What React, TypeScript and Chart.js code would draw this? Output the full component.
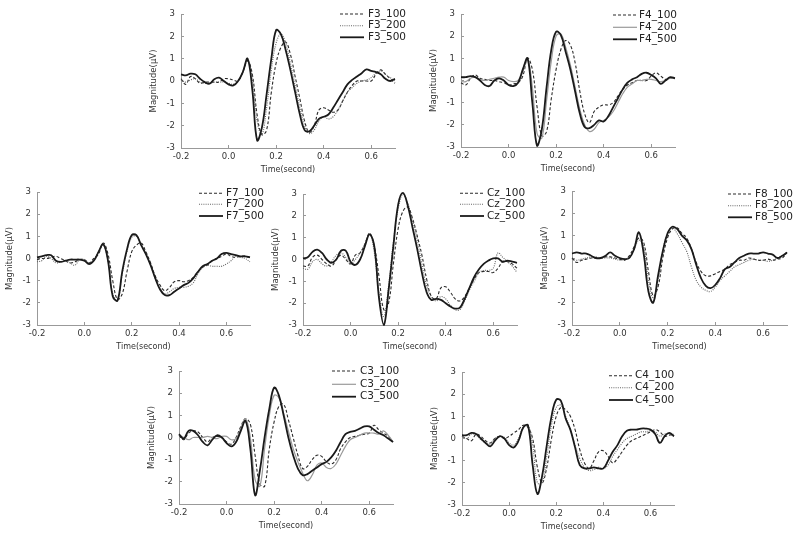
import React, { useEffect, useRef } from "react";
import { Chart, registerables } from "chart.js";
Chart.register(...registerables);

const time = [-0.2,-0.18,-0.16,-0.14,-0.12,-0.1,-0.08,-0.06,-0.04,-0.02,0,0.02,0.04,0.06,0.08,0.1,0.12,0.14,0.16,0.18,0.2,0.22,0.24,0.26,0.28,0.3,0.32,0.34,0.36,0.38,0.4,0.42,0.44,0.46,0.48,0.5,0.52,0.54,0.56,0.58,0.6,0.62,0.64,0.66,0.68,0.7];
const xTicks = [-0.2, 0, 0.2, 0.4, 0.6];
const yTicks = [-3, -2, -1, 0, 1, 2, 3];

const F3_100 = [0.1,-0.15,0.2,0.1,-0.1,-0.05,-0.05,-0.05,-0.05,0.1,0.1,0.05,0.0,0.4,0.9,0.3,-1.5,-2.4,-2.2,-0.5,0.8,1.5,1.75,1.2,0.2,-0.8,-1.8,-2.3,-2.0,-1.3,-1.2,-1.3,-1.4,-1.3,-0.9,-0.5,-0.2,0.0,0.0,0.0,0.0,0.3,0.5,0.3,0.1,-0.1];
const F3_200 = [0.05,-0.05,0.05,0.1,-0.05,-0.1,-0.1,-0.05,-0.05,-0.05,-0.1,-0.15,0.0,0.4,0.95,0.1,-1.8,-2.4,-1.2,0.5,1.7,2.1,1.7,0.8,-0.2,-1.2,-2.0,-2.35,-2.2,-1.8,-1.6,-1.7,-1.6,-1.3,-0.9,-0.5,-0.3,-0.1,0.0,0.05,0.15,0.35,0.45,0.3,0.15,0.0];
const F3_500 = [0.3,0.25,0.33,0.3,0.1,-0.05,-0.12,0.08,0.15,0.0,-0.15,-0.2,0.0,0.4,1.0,-0.4,-2.65,-2.1,-0.6,1.0,2.28,2.1,1.4,0.5,-0.5,-1.5,-2.2,-2.25,-2.0,-1.7,-1.6,-1.5,-1.2,-0.85,-0.5,-0.15,0.05,0.2,0.35,0.52,0.45,0.4,0.3,0.1,0.0,0.1];

const F4_100 = [-0.1,-0.2,0.1,0.25,0.1,0.05,0.0,0.0,-0.05,-0.1,-0.2,-0.15,-0.1,0.2,1.0,0.5,-1.2,-2.5,-2.3,-0.8,0.5,1.4,1.8,1.6,0.8,-0.5,-1.5,-1.9,-1.4,-1.2,-1.1,-1.1,-1.0,-0.7,-0.4,-0.2,-0.1,0.0,0.0,0.0,0.2,0.35,0.2,0.05,0.1,0.1];
const F4_200 = [-0.05,-0.05,0.1,0.15,0.05,0.0,0.05,0.1,0.15,0.15,0.0,-0.05,0.0,0.4,1.0,-0.3,-2.4,-2.6,-0.9,0.9,2.0,2.1,1.5,0.7,-0.3,-1.3,-2.0,-2.3,-2.2,-1.9,-1.8,-1.65,-1.4,-1.0,-0.6,-0.3,-0.15,0.0,0.0,0.05,0.05,0.0,-0.05,0.0,0.1,0.1];
const F4_500 = [0.15,0.15,0.2,0.15,0.0,-0.2,-0.25,0.0,0.1,0.0,-0.2,-0.25,-0.1,0.5,1.0,-1.0,-2.95,-2.2,-0.3,1.4,2.2,2.05,1.3,0.5,-0.5,-1.5,-2.1,-2.15,-2.0,-1.8,-1.85,-1.6,-1.2,-0.8,-0.4,-0.1,0.05,0.15,0.3,0.35,0.25,0.1,-0.15,0.0,0.15,0.1];

const F7_100 = [-0.05,0.0,0.0,0.05,0.1,0.0,-0.1,-0.2,-0.15,-0.05,-0.05,-0.2,0.0,0.2,0.7,0.2,-1.0,-1.85,-1.6,-0.6,0.3,0.6,0.7,0.3,-0.2,-0.8,-1.2,-1.45,-1.3,-1.05,-1.0,-1.05,-1.0,-0.85,-0.6,-0.4,-0.3,-0.1,0.0,0.1,0.2,0.1,0.05,0.1,0.1,0.05];
const F7_200 = [-0.15,-0.1,0.1,0.0,-0.2,-0.15,-0.1,-0.2,-0.3,-0.05,-0.05,-0.2,-0.05,0.3,0.6,-0.1,-1.6,-1.9,-0.7,0.3,0.95,1.0,0.6,0.2,-0.3,-0.9,-1.35,-1.6,-1.5,-1.35,-1.3,-1.3,-1.25,-1.1,-0.7,-0.4,-0.3,-0.35,-0.35,-0.35,-0.25,-0.1,0.1,0.05,0.0,-0.15];
const F7_500 = [0.05,0.1,0.15,0.15,-0.1,-0.15,-0.1,-0.05,-0.05,-0.05,-0.1,-0.25,-0.1,0.3,0.65,-0.1,-1.7,-1.9,-0.6,0.4,1.05,1.05,0.6,0.2,-0.3,-0.9,-1.4,-1.65,-1.65,-1.5,-1.35,-1.2,-1.1,-0.9,-0.6,-0.35,-0.25,-0.1,0.0,0.2,0.25,0.2,0.15,0.1,0.1,0.05];

const Cz_100 = [-0.3,-0.3,0.1,0.2,0.0,-0.2,-0.3,0.0,0.2,0.0,-0.2,0.2,0.3,0.7,1.2,0.6,-0.8,-2.3,-2.0,-0.2,1.4,2.2,2.4,1.9,1.1,0.2,-0.9,-1.7,-1.8,-1.3,-1.25,-1.5,-1.8,-1.9,-1.7,-1.3,-0.9,-0.6,-0.55,-0.55,-0.6,-0.4,-0.1,-0.1,-0.2,-0.4];
const Cz_200 = [-0.4,-0.45,-0.1,0.0,-0.2,-0.3,-0.1,0.2,0.3,0.1,-0.2,0.0,0.3,0.7,1.2,0.3,-1.6,-2.6,-1.2,0.8,2.3,3.0,2.6,1.8,0.9,-0.2,-1.2,-1.7,-1.9,-1.7,-1.8,-2.1,-2.3,-2.3,-1.9,-1.4,-1.0,-0.6,-0.5,-0.5,-0.4,0.3,0.1,-0.1,-0.3,-0.6];
const Cz_500 = [0.05,0.1,0.35,0.45,0.3,0.0,-0.15,0.0,0.4,0.4,-0.1,-0.25,0.0,0.6,1.15,0.6,-1.8,-3.0,-1.4,0.6,2.5,3.05,2.5,1.5,0.5,-0.6,-1.5,-1.85,-1.8,-1.85,-2.0,-2.15,-2.25,-2.2,-1.8,-1.3,-0.8,-0.45,-0.2,-0.05,0.05,0.05,-0.1,-0.05,-0.1,-0.15];

const F8_100 = [0.0,-0.2,-0.1,-0.05,0.0,0.0,0.0,0.05,0.05,0.0,-0.05,-0.1,0.1,0.5,0.9,0.7,-0.6,-1.7,-1.3,0.0,0.9,1.3,1.35,1.1,0.9,0.4,-0.2,-0.6,-0.8,-0.8,-0.7,-0.6,-0.5,-0.3,-0.2,-0.1,-0.1,0.0,-0.05,-0.1,-0.1,-0.05,-0.1,-0.05,0.0,0.25];
const F8_200 = [-0.05,-0.1,-0.05,0.0,0.05,0.05,0.0,0.0,0.0,-0.05,-0.1,-0.05,0.0,0.4,0.8,0.5,-1.0,-1.8,-1.0,0.3,1.1,1.35,1.1,0.7,0.3,-0.4,-1.0,-1.3,-1.45,-1.5,-1.3,-1.0,-0.8,-0.6,-0.4,-0.3,-0.2,-0.1,-0.05,-0.1,-0.1,-0.15,-0.1,0.0,0.1,0.2];
const F8_500 = [0.2,0.25,0.2,0.2,0.1,0.0,0.0,0.1,0.25,0.1,0.0,-0.05,0.0,0.4,1.15,0.2,-1.5,-2.0,-0.8,0.3,1.1,1.4,1.3,1.0,0.8,0.4,-0.3,-0.9,-1.25,-1.35,-1.2,-0.9,-0.5,-0.4,-0.2,0.0,0.1,0.2,0.2,0.2,0.25,0.2,0.15,0.0,0.1,0.25];

const C3_100 = [0.1,-0.1,0.2,0.3,0.25,0.0,-0.2,0.0,0.05,0.0,-0.2,-0.3,0.0,0.5,0.85,0.6,-0.8,-2.1,-2.2,-0.5,0.7,1.4,1.5,0.8,0.0,-0.8,-1.4,-1.3,-1.0,-0.8,-0.85,-1.1,-1.2,-1.0,-0.5,-0.2,0.0,0.05,0.1,0.15,0.2,0.55,0.35,0.2,0.05,-0.2];
const C3_200 = [0.1,0.0,-0.1,0.0,0.0,0.0,0.05,0.0,-0.05,0.05,0.05,-0.1,-0.05,0.4,0.85,0.0,-1.9,-2.2,-0.5,1.0,1.9,1.8,1.1,0.3,-0.5,-1.1,-1.6,-1.95,-1.7,-1.25,-1.15,-1.35,-1.4,-1.2,-0.8,-0.4,-0.1,0.0,0.1,0.2,0.2,0.2,0.15,0.3,0.1,-0.2];
const C3_500 = [0.15,-0.05,0.3,0.3,0.1,-0.2,-0.35,-0.1,0.1,0.0,-0.25,-0.4,-0.2,0.3,0.75,-0.5,-2.6,-1.5,0.0,1.3,2.25,1.9,1.0,0.0,-0.8,-1.4,-1.7,-1.65,-1.5,-1.35,-1.2,-1.1,-0.9,-0.6,-0.2,0.15,0.25,0.3,0.4,0.5,0.5,0.35,0.2,0.1,-0.05,-0.2];

const C4_100 = [0.1,0.0,-0.1,0.2,0.1,-0.1,-0.2,0.0,0.1,0.0,0.1,0.25,0.4,0.6,0.5,0.0,-1.3,-2.0,-1.3,0.0,1.0,1.4,1.3,1.0,0.4,-0.5,-1.1,-1.35,-1.0,-0.6,-0.55,-0.8,-1.1,-0.9,-0.6,-0.3,-0.1,0.0,0.1,0.2,0.3,0.4,0.3,0.1,0.15,0.2];
const C4_200 = [0.1,0.0,0.2,0.15,-0.05,-0.2,-0.25,0.0,0.1,0.05,-0.2,-0.3,0.0,0.5,0.6,-0.3,-2.0,-2.0,-0.8,0.6,1.4,1.5,1.0,0.4,-0.3,-0.9,-1.3,-1.45,-1.4,-1.3,-1.35,-1.2,-0.8,-0.5,-0.2,0.0,0.1,0.2,0.3,0.3,0.35,0.3,0.1,0.2,0.2,0.1];
const C4_500 = [0.15,0.15,0.25,0.2,0.0,-0.2,-0.35,-0.1,0.1,0.0,-0.3,-0.4,-0.1,0.5,0.6,-1.2,-2.5,-1.7,-0.3,1.0,1.75,1.7,0.9,0.4,-0.4,-1.2,-1.35,-1.35,-1.3,-1.35,-1.35,-1.0,-0.6,-0.3,0.1,0.35,0.4,0.4,0.45,0.45,0.4,0.2,-0.2,0.1,0.25,0.1];

// layout (page-pixel chart areas) and legend offsets
const panels = [
  { name: "F3", s100: F3_100, s200: F3_200, s500: F3_500, solid200: false, area: { l: 181, t: 14, r: 395, b: 148 }, leg: { sx: -55, tx: -27, rows: [0, 11.7, 23.3] } },
  { name: "F4", s100: F4_100, s200: F4_200, s500: F4_500, solid200: true, area: { l: 461, t: 14, r: 675, b: 147 }, leg: { sx: -62, tx: -36, rows: [1, 13.3, 25.3] } },
  { name: "F7", s100: F7_100, s200: F7_200, s500: F7_500, solid200: false, area: { l: 37, t: 192, r: 250, b: 325 }, leg: { sx: -51, tx: -24, rows: [1.3, 12.3, 24] } },
  { name: "Cz", s100: Cz_100, s200: Cz_200, s500: Cz_500, solid200: false, area: { l: 303, t: 194, r: 517, b: 325 }, leg: { sx: -57, tx: -30, rows: [-0.7, 10.3, 22] } },
  { name: "F8", s100: F8_100, s200: F8_200, s500: F8_500, solid200: false, area: { l: 572, t: 191, r: 787, b: 325 }, leg: { sx: -59, tx: -32, rows: [3, 14.7, 26.3] } },
  { name: "C3", s100: C3_100, s200: C3_200, s500: C3_500, solid200: true, area: { l: 179, t: 371, r: 393, b: 504 }, leg: { sx: -61, tx: -33, rows: [0, 13.3, 25.7] } },
  { name: "C4", s100: C4_100, s200: C4_200, s500: C4_500, solid200: false, area: { l: 462, t: 372, r: 674, b: 505 }, leg: { sx: -65, tx: -39, rows: [3.7, 15.7, 28] } },
];

const FONT = "'DejaVu Sans', sans-serif";
const YW = 32, TP = 16, XH = 27, RP = 20;

function Panel({ p }: { p: any }) {
  const ref = useRef<HTMLCanvasElement | null>(null);
  const w = p.area.r - p.area.l + YW + RP;
  const h = p.area.b - p.area.t + TP + XH;
  useEffect(() => {
    const pts = (arr: number[]) => time.map((t, i) => ({ x: t, y: arr[i] }));
    const legendPlugin = {
      id: "sideLegend" + p.name,
      afterDraw(chart: any) {
        const { ctx, chartArea } = chart;
        chart.data.datasets.forEach((ds: any, i: number) => {
          const y = chartArea.top + p.leg.rows[i];
          ctx.save();
          ctx.strokeStyle = ds.borderColor;
          ctx.lineWidth = ds.borderWidth;
          ctx.setLineDash(ds.borderDash || []);
          ctx.beginPath();
          ctx.moveTo(chartArea.right + p.leg.sx, y);
          ctx.lineTo(chartArea.right + p.leg.sx + 24, y);
          ctx.stroke();
          ctx.setLineDash([]);
          ctx.fillStyle = "#222";
          ctx.font = "10.5px " + FONT;
          ctx.textBaseline = "middle";
          ctx.textAlign = "left";
          ctx.fillText(ds.label, chartArea.right + p.leg.tx, y);
          ctx.restore();
        });
      },
    };
    const chart = new Chart(ref.current as HTMLCanvasElement, {
      type: "line",
      data: {
        datasets: [
          { label: p.name + "_100", data: pts(p.s100), borderColor: "#2a2a2a", borderWidth: 1.1, borderDash: [3, 2], order: 2 },
          p.solid200
            ? { label: p.name + "_200", data: pts(p.s200), borderColor: "#9a9a9a", borderWidth: 1.2, borderDash: [], order: 1 }
            : { label: p.name + "_200", data: pts(p.s200), borderColor: "#666", borderWidth: 1.1, borderDash: [1, 1.2], order: 1 },
          { label: p.name + "_500", data: pts(p.s500), borderColor: "#1a1a1a", borderWidth: 1.8, borderDash: [], order: 0 },
        ] as any,
      },
      options: {
        animation: false,
        responsive: false,
        devicePixelRatio: 1,
        layout: { padding: { top: TP, right: RP, left: 0, bottom: 0 } },
        elements: { point: { radius: 0 }, line: { tension: 0.4, fill: false } },
        datasets: { line: { clip: 6 } } as any,
        plugins: { legend: { display: false }, tooltip: { enabled: false } },
        scales: {
          x: {
            type: "linear",
            min: -0.2,
            max: 0.7,
            afterBuildTicks: (s: any) => { s.ticks = xTicks.map((v) => ({ value: v })); },
            afterFit: (s: any) => { s.height = XH; },
            ticks: { callback: (v: any) => Number(v).toFixed(1), font: { family: FONT, size: 8.5 }, color: "#333", padding: 7, maxRotation: 0, autoSkip: false },
            grid: { drawOnChartArea: false, tickLength: -3, color: "#999" },
            border: { color: "#999" },
            title: { display: true, text: "Time(second)", font: { family: FONT, size: 8 }, color: "#333", padding: 0 },
          },
          y: {
            type: "linear",
            min: -3,
            max: 3,
            afterBuildTicks: (s: any) => { s.ticks = yTicks.map((v) => ({ value: v })); },
            afterFit: (s: any) => { s.width = YW; },
            ticks: { callback: (v: any) => String(v), font: { family: FONT, size: 8.5 }, color: "#333", padding: 9 },
            grid: { drawOnChartArea: false, tickLength: -3, color: "#999" },
            border: { color: "#999" },
            title: { display: true, text: "Magnitude(μV)", font: { family: FONT, size: 8.5 }, color: "#333", padding: 0 },
          },
        },
      } as any,
      plugins: [legendPlugin],
    });
    return () => chart.destroy();
  }, []);
  return (
    <canvas
      ref={ref}
      width={w}
      height={h}
      style={{ position: "absolute", left: p.area.l - YW, top: p.area.t - TP, width: w, height: h }}
    />
  );
}

export default function App() {
  return (
    <div style={{ position: "fixed", left: 0, top: 0, width: 800, height: 537, overflow: "hidden", background: "#fff" }}>
      {panels.map((p) => (
        <Panel key={p.name} p={p} />
      ))}
    </div>
  );
}
